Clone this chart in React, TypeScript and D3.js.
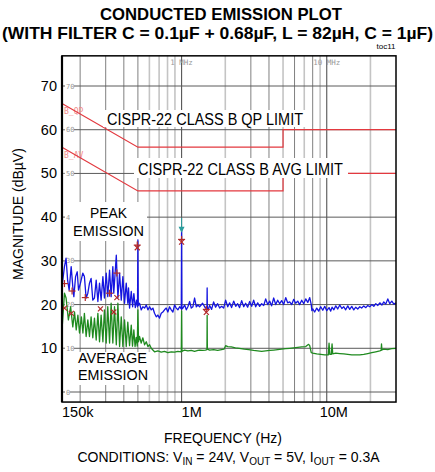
import React from 'react';
import * as d3 from 'd3';

// ---- data (frequency in kHz, level in dBµV) ----
const peakTrace: [number, number][] = [
  [150, 24.1], [156, 28.7], [160, 30.6], [164, 25.6], [168, 23.3], [173.5, 28.7], [178, 24.1], [181, 21.8],
  [186, 26.4], [191, 27.5], [195, 23.3], [201, 24.9], [208.6, 27.2], [214, 26.4], [220, 21.5], [226, 22.6],
  [232, 24.9], [238, 26.0], [244.5, 21.0], [251, 21.5], [258, 25.6], [265, 20.7], [272, 24.9], [279, 21.0],
  [287, 26.4], [294, 21.5], [302.5, 27.2], [310, 21.8], [319, 27.9], [327, 21.8], [336, 28.7], [341, 22.6],
  [355, 31.3], [364, 21.5], [374, 27.2], [384, 21.0], [394, 26.4], [404.5, 20.3], [415.5, 24.9], [426, 20.3],
  [431, 23.8], [438, 19.2], [450, 23.0], [460, 19.5], [469, 22.5], [480, 19.3], [490, 21.0], [497, 19.5],
  [500, 34.8], [503, 19.8], [513, 20.3], [527, 18.8], [541, 19.5], [556, 19.2], [571, 19.9], [586, 18.8],
  [602, 19.5], [618, 18.8], [634, 19.2], [651, 18.0], [669, 17.2], [686, 17.6], [705, 16.9], [724, 18.0],
  [743, 18.3], [763, 18.8], [784, 19.2], [804, 18.3], [826, 19.5], [849, 18.8], [871, 18.3], [895, 19.9],
  [919, 19.2], [943, 18.8], [969, 19.5], [995, 19.0], [1000, 37.5], [1005, 19.0], [1021, 19.2], [1049, 19.9],
  [1078, 18.8], [1105, 19.5], [1136, 20.7], [1166, 19.2], [1196, 19.5], [1229, 21.5], [1263, 19.5], [1296, 19.9],
  [1331, 19.5], [1396, 20.3], [1460, 19.2], [1495, 19.4], [1500, 23.8], [1505, 19.0], [1530, 19.0], [1560, 19.8],
  [1610, 18.9], [1662, 20.6], [1715, 19.4], [1771, 20.2], [1830, 19.2], [1887, 19.6], [1950, 19.2], [2011, 21.0],
  [2080, 19.5], [2143, 20.4], [2210, 19.3], [2284, 20.8], [2360, 19.6], [2433, 20.2], [2510, 19.3], [2593, 20.9],
  [2680, 19.5], [2763, 20.3], [2850, 19.4], [2944, 20.7], [3040, 19.6], [3137, 21.0], [3240, 19.5], [3343, 20.4],
  [3450, 19.6], [3562, 20.2], [3680, 19.8], [3796, 21.3], [3920, 20.0], [4045, 20.8], [4170, 19.7], [4310, 21.5],
  [4450, 20.0], [4593, 21.0], [4740, 20.2], [4894, 20.9], [5050, 20.0], [5215, 21.6], [5380, 20.4], [5557, 20.6],
  [5740, 20.0], [5922, 21.2], [6110, 20.3], [6310, 20.8], [6510, 20.0], [6724, 21.0], [6940, 20.2], [7165, 21.3],
  [7400, 20.5], [7635, 21.6], [7819, 20.0], [7900, 18.6], [8007, 19.0], [8260, 18.3], [8531, 19.2], [8800, 18.5],
  [9091, 19.5], [9390, 18.7], [9687, 19.6], [10000, 18.6], [10373, 19.3], [10650, 18.5], [10880, 19.4], [11200, 18.8],
  [11537, 19.7], [11900, 19.0], [12293, 19.9], [12700, 19.1], [13100, 19.5], [13500, 18.8], [13959, 19.7], [14400, 18.9],
  [14874, 19.6], [15350, 18.8], [15849, 19.4], [16350, 19.0], [16888, 19.5], [17400, 19.2], [17995, 19.7], [18600, 19.3],
  [19175, 19.8], [19800, 19.5], [20432, 20.0], [21100, 19.6], [21771, 20.2], [22500, 19.8], [23198, 20.4], [24000, 19.9],
  [24719, 20.6], [25500, 20.1], [26340, 21.3], [27200, 20.2], [28066, 20.8], [29000, 20.1], [30000, 20.4],
];

const avgTrace: [number, number][] = [
  [150, 14.2], [156, 22.6], [160, 21.5], [166, 16.5], [172, 19.5], [178, 14.9], [183, 18.3], [188, 14.2],
  [193, 17.6], [198, 13.5], [204, 17.2], [209, 13.5], [214, 18.0], [220, 12.7], [226, 16.5], [232, 12.7],
  [238, 17.2], [244.5, 12.4], [251, 16.9], [258, 11.9], [265, 18.0], [272, 11.5], [279, 17.6], [287, 11.5],
  [294, 18.8], [302.5, 11.2], [310, 19.5], [319, 11.2], [327, 20.3], [336, 11.2], [345, 19.5], [355, 10.8],
  [364, 20.3], [374, 10.4], [384, 17.2], [394, 10.4], [404.5, 16.5], [415.5, 10.4], [426, 16.0], [438, 10.6],
  [450, 15.3], [459, 10.5], [469, 14.2], [478, 10.4], [487, 12.5], [495, 10.5], [500, 18.8], [505, 11.5],
  [513, 12.7], [527, 11.2], [541, 12.4], [556, 10.8], [571, 11.5], [586, 10.4], [602, 10.8], [618, 10.0],
  [634, 9.6], [651, 9.2], [686, 9.4], [724, 9.1], [763, 9.3], [804, 9.0], [849, 9.2], [895, 9.1],
  [943, 9.3], [995, 9.2], [1000, 18.5], [1005, 9.3], [1049, 9.6], [1105, 9.4], [1166, 9.5], [1229, 9.3],
  [1296, 9.5], [1331, 9.6], [1396, 9.5], [1460, 9.6], [1495, 9.7], [1500, 17.5], [1505, 9.8], [1560, 9.6],
  [1662, 9.7], [1771, 9.5], [1887, 9.7], [1960, 9.8], [2011, 10.6], [2080, 10.4], [2200, 10.3], [2350, 10.1],
  [2500, 10.0], [2700, 9.8], [2900, 9.7], [3137, 9.5], [3343, 9.4], [3562, 9.3], [3796, 9.4], [4045, 9.5],
  [4310, 9.6], [4593, 9.7], [4894, 9.8], [5215, 9.9], [5557, 10.0], [5922, 10.1], [6310, 10.2], [6724, 10.3],
  [7165, 10.4], [7500, 10.9], [7635, 10.6], [7819, 9.0], [8007, 8.9], [8531, 8.7], [9091, 8.6], [9687, 8.5],
  [10250, 8.5], [10373, 11.2], [10500, 8.6], [10750, 8.6], [10880, 11.0], [11000, 8.7], [11537, 8.9], [12293, 8.8],
  [13100, 8.7], [13959, 8.6], [14874, 8.5], [15849, 8.5], [16888, 8.5], [17995, 8.6], [19175, 8.8], [20432, 9.0],
  [21771, 9.2], [23198, 9.4], [23700, 9.5], [23834, 11.0], [24000, 9.6], [24719, 9.8], [26340, 9.7], [28066, 9.9],
  [30000, 10.0],
];

const qpLimit: [number, number][] = [[150, 66], [500, 56], [5000, 56], [5000, 60], [30000, 60]];
const avgLimit: [number, number][] = [[150, 56], [500, 46], [5000, 46], [5000, 50], [30000, 50]];

const qpMarkers: [number, number][] = [
  [156, 24.8], [176, 23.1], [217, 21.6], [319, 22.6], [358, 27.2], [495, 33.6], [1000, 34.9], [1480, 18.9],
];
const avgMarkers: [number, number][] = [
  [156, 19.2], [174, 18.0], [276, 19.0], [341, 18.3], [358, 21.6], [495, 33.0], [1000, 34.3], [1480, 18.2],
];
const triangleMarker: [number, number] = [1000, 37.1];

const yTicks = [0, 10, 20, 30, 40, 50, 60, 70];
const yTickLabels = [0, 10, 20, 30, 40, 50, 60, 70];
const gridFreqs = [200, 300, 400, 500, 600, 700, 800, 900, 1000, 2000, 3000, 4000, 5000, 6000, 7000, 8000, 9000, 10000, 20000];
const gridShade = ['d', 'd', 'd', 'd', 'l', 'l', 'l', 'l', 'D', 'l', 'd', 'd', 'l', 'd', 'l', 'd', 'l', 'D', 'l'];
const xTickLabels: [number, string][] = [[150, '150k'], [1000, '1M'], [10000, '10M']];

const FONT = "'Liberation Sans', Arial, Helvetica, sans-serif";
const MONO = "'DejaVu Sans Mono', 'Liberation Mono', monospace";

export default function App() {
  const x = d3.scaleLog().domain([150, 30000]).range([62, 396]);
  const y = d3.scaleLinear().domain([0, 70]).range([392, 86]);
  const line = d3.line<[number, number]>().x(d => x(d[0])).y(d => y(d[1]));

  const left = x(150), right = x(30000);
  const top = y(76.9), bottom = y(-2.3);

  const gridStyle = (s: string) =>
    s === 'D' ? { stroke: '#555', w: 1.1 } : s === 'd' ? { stroke: '#808080', w: 1 } : { stroke: '#c4c4c4', w: 1.6 };

  const red = '#b22a2a';

  return (
    <div style={{ position: 'absolute', left: 0, top: 0 }}>
      <svg width={435} height={472} style={{ display: 'block', background: '#fff' }} fontFamily={FONT}>
        <rect x={0} y={0} width={435} height={472} fill="#fff" />
        {/* Title */}
        <text x={221} y={20} textAnchor="middle" fontSize={16.5} fontWeight="bold" textLength={242} lengthAdjust="spacingAndGlyphs">CONDUCTED EMISSION PLOT</text>
        <text x={217.5} y={38.5} textAnchor="middle" fontSize={16.5} fontWeight="bold" textLength={431} lengthAdjust="spacingAndGlyphs">(WITH FILTER C = 0.1µF + 0.68µF, L = 82µH, C = 1µF)</text>
        <text x={386} y={49} textAnchor="middle" fontSize={8}>toc11</text>

        {/* vertical grid */}
        {gridFreqs.map((f, i) => {
          const g = gridStyle(gridShade[i]);
          return <line key={'v' + f} x1={x(f)} x2={x(f)} y1={top} y2={bottom} stroke={g.stroke} strokeWidth={g.w} />;
        })}
        {/* horizontal grid */}
        {yTicks.map(v => (
          <line key={'h' + v} x1={left} x2={right} y1={y(v)} y2={y(v)} stroke="#5a5a5a" strokeWidth={1} />
        ))}
        {/* tiny inner labels */}
        {yTickLabels.map(v => (
          <g key={'il' + v}>
            <line x1={left} x2={left + 3} y1={y(v)} y2={y(v)} stroke="#aaa" strokeWidth={0.8} />
            <rect x={left + 3} y={y(v) - 3.5} width={v === 0 ? 5 : 9} height={7} fill="#fff" />
            <text x={left + 4} y={y(v) + 2.5} fontSize={7} fill="#999" fontFamily={MONO}>{v}</text>
          </g>
        ))}
        <text x={x(1000)} y={65} textAnchor="middle" fontSize={7.5} fill="#999" fontFamily={MONO}>1 MHz</text>
        <text x={x(10000)} y={65} textAnchor="middle" fontSize={7.5} fill="#999" fontFamily={MONO}>10 MHz</text>
        <text x={left + 2} y={y(63.5)} fontSize={8} fill="#f08a8a" fontFamily={MONO}>B_QP</text>
        <text x={left + 2} y={y(53.5)} fontSize={8} fill="#f08a8a" fontFamily={MONO}>B_AV</text>

        {/* limit lines */}
        <path d={line(qpLimit) || ''} fill="none" stroke="#e3393f" strokeWidth={1.2} />
        <path d={line(avgLimit) || ''} fill="none" stroke="#e3393f" strokeWidth={1.2} />

        {/* label boxes */}
        <rect x={103} y={110} width={203} height={17} fill="#fff" />
        <text x={107} y={125} fontSize={16} textLength={196} lengthAdjust="spacingAndGlyphs">CISPR-22 CLASS B QP LIMIT</text>
        <rect x={134} y={158} width={214} height={20} fill="#fff" />
        <text x={138} y={175} fontSize={16} textLength={205} lengthAdjust="spacingAndGlyphs">CISPR-22 CLASS B AVG LIMIT</text>
        <rect x={70} y={202} width={77} height={39} fill="#fff" />
        <text x={108.5} y={218} textAnchor="middle" fontSize={15} textLength={37} lengthAdjust="spacingAndGlyphs">PEAK</text>
        <text x={108.5} y={236} textAnchor="middle" fontSize={15} textLength={71} lengthAdjust="spacingAndGlyphs">EMISSION</text>
        <rect x={75} y={352} width={76} height={33} fill="#fff" />
        <text x={112.5} y={363} textAnchor="middle" fontSize={15} textLength={69} lengthAdjust="spacingAndGlyphs">AVERAGE</text>
        <text x={113} y={380} textAnchor="middle" fontSize={15} textLength={70} lengthAdjust="spacingAndGlyphs">EMISSION</text>

        {/* traces */}
        <path d={line(avgTrace) || ''} fill="none" stroke="#1f8a1f" strokeWidth={1.3} strokeLinejoin="round" />
        <path d={line(peakTrace) || ''} fill="none" stroke="#1515e0" strokeWidth={1.3} strokeLinejoin="round" />

        {/* markers */}
        {qpMarkers.map((d, i) => {
          const cx = x(d[0]), cy = y(d[1]);
          return (
            <g key={'qp' + i} stroke={red} strokeWidth={1.2}>
              <line x1={cx - 3.5} x2={cx + 3.5} y1={cy} y2={cy} />
              <line x1={cx} x2={cx} y1={cy - 3.5} y2={cy + 3.5} />
            </g>
          );
        })}
        {avgMarkers.map((d, i) => {
          const cx = x(d[0]), cy = y(d[1]);
          return (
            <g key={'av' + i} stroke={red} strokeWidth={1.2}>
              <line x1={cx - 2.5} x2={cx + 2.5} y1={cy - 2.5} y2={cy + 2.5} />
              <line x1={cx - 2.5} x2={cx + 2.5} y1={cy + 2.5} y2={cy - 2.5} />
            </g>
          );
        })}
        {(() => {
          const cx = x(triangleMarker[0]), cy = y(triangleMarker[1]);
          return (
            <g>
              <line x1={cx} x2={cx} y1={cy - 12} y2={cy - 3} stroke="#2a9d9d" strokeWidth={1} />
              <path d={`M${cx - 3},${cy - 3} L${cx + 3},${cy - 3} L${cx},${cy + 3} Z`} fill="#2a9d9d" />
            </g>
          );
        })()}

        {/* frame */}
        <rect x={left} y={top} width={right - left} height={bottom - top} fill="none" stroke="#000" strokeWidth={1.5} />
        <line x1={left} x2={left} y1={top} y2={bottom} stroke="#000" strokeWidth={2.2} />

        {/* y axis labels */}
        {yTickLabels.filter(v => v > 0).map(v => (
          <text key={'yl' + v} x={57} y={y(v) + 5} textAnchor="end" fontSize={14.5}>{v}</text>
        ))}
        <text transform={`translate(23,${214}) rotate(-90)`} textAnchor="middle" fontSize={14}>MAGNITUDE (dBµV)</text>

        {/* x axis labels */}
        {xTickLabels.map(([f, s], i) => (
          <text key={'xl' + f} x={x(f) + (i === 0 ? 0 : i === 1 ? 0 : -7)} y={417} fontSize={14.5}>{s}</text>
        ))}
        <text x={223} y={443} textAnchor="middle" fontSize={14}>FREQUENCY (Hz)</text>
        <text x={228.5} y={462} textAnchor="middle" fontSize={14}>
          CONDITIONS: V<tspan fontSize={10} dy={3}>IN</tspan><tspan dy={-3}> = 24V, V</tspan>
          <tspan fontSize={10} dy={3}>OUT</tspan><tspan dy={-3}> = 5V, I</tspan>
          <tspan fontSize={10} dy={3}>OUT</tspan><tspan dy={-3}> = 0.3A</tspan>
        </text>
      </svg>
    </div>
  );
}
